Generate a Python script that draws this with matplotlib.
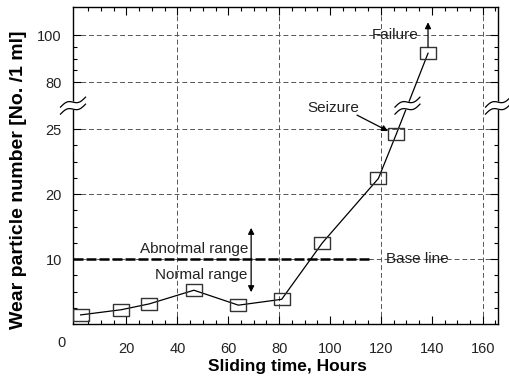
import numpy as np
import matplotlib
matplotlib.use('Agg')
import matplotlib.pyplot as plt
from matplotlib import transforms
from matplotlib.ticker import FixedLocator, FixedFormatter, NullFormatter

plt.rcParams['font.family'] = ['Liberation Sans', 'DejaVu Sans']

# ---- data ----
hours = [2, 18, 29, 46.5, 64, 81, 97, 119, 126, 138.5]
particles = [1.4, 2.2, 3.1, 5.2, 2.9, 3.8, 12.5, 21.2, 24.6, 92.3]

x_major = [20, 40, 60, 80, 100, 120, 140, 160]
x_major_labels = ['20', '40', '60', '80', '100', '120', '140', '160']
x_minor = list(range(5, 166, 5))
x_grid = [40, 80, 120, 160]

y_major = [10, 20, 25, 80, 100]
y_major_labels = ['10', '20', '25', '80', '100']
y_minor = [2.5, 5, 7.5, 12.5, 15, 17.5, 21.25, 22.5, 23.75, 85, 90, 95]
y_grid = [10, 20, 25, 80, 100]
base_value = 10

# broken (piecewise) y scale: value -> drawing position
scale_vals = [-10, 0, 10, 20, 25, 80, 100, 140]
scale_pos = [-65, 0, 65, 130, 195, 242, 289, 383]


def fwd(v):
    return np.interp(v, scale_vals, scale_pos)


def inv(p):
    return np.interp(p, scale_pos, scale_vals)


fig = plt.figure(figsize=(5.09, 3.77), dpi=100)
ax = fig.add_axes([73 / 509, 53 / 377, 425 / 509, 317 / 377])
ax.set_yscale('function', functions=(fwd, inv))
ax.set_xlim(-1, 166)
ax.set_ylim(0, 112)

grid_kw = dict(color='#555555', lw=0.7, dashes=(5, 3), zorder=1)
for gx in x_grid:
    ax.axvline(gx, **grid_kw)
for gy in y_grid:
    ax.axhline(gy, **grid_kw)

# thick base line at 10 (left part)
ax.plot([-1, 115.5], [base_value, base_value], color='black', lw=1.8,
        dashes=(4, 1.2), zorder=2)

# data
box = [(-1.36, -1), (1.36, -1), (1.36, 1), (-1.36, 1), (-1.36, -1)]
ax.plot(hours, particles, color='black', lw=0.9, zorder=3)
ax.plot(hours, particles, ls='none', marker=box, markersize=11,
        markerfacecolor='none', markeredgecolor='#333333', markeredgewidth=1.0,
        zorder=4)

# ticks
ax.xaxis.set_major_locator(FixedLocator(x_major))
ax.xaxis.set_major_formatter(FixedFormatter(x_major_labels))
ax.xaxis.set_minor_locator(FixedLocator(x_minor))
ax.yaxis.set_major_locator(FixedLocator(y_major))
ax.yaxis.set_major_formatter(FixedFormatter(y_major_labels))
ax.yaxis.set_minor_locator(FixedLocator(y_minor))
ax.yaxis.set_minor_formatter(NullFormatter())
ax.tick_params(which='both', direction='in', top=True, right=True,
               color='black', width=0.8, labelsize=10.5, labelcolor='#222222')
ax.tick_params(which='major', length=5.8)
ax.tick_params(which='minor', length=3.2)
ax.tick_params(axis='x', pad=13)
ax.tick_params(axis='y', pad=8)
for s in ax.spines.values():
    s.set_linewidth(1.0)

ax.annotate('0', xy=(0, 0), xycoords='axes fraction', xytext=(-11, -19),
            textcoords='offset pixels', ha='center', va='center',
            fontsize=10.5, color='#222222', annotation_clip=False)

ax.set_xlabel('Sliding time, Hours', fontsize=12.5, fontweight='bold')
ax.xaxis.set_label_coords(0.505, -0.11)
ax.set_ylabel('Wear particle number [No. /1 ml]', fontsize=14, fontweight='bold')
ax.yaxis.set_label_coords(-0.108, 0.454)

# annotations
txt_kw = dict(fontsize=11, color='#222222')
ax.annotate('', xy=(138.5, 105.5), xytext=(138.5, 95),
            arrowprops=dict(arrowstyle='-|>', color='black', lw=0.9,
                            mutation_scale=9, shrinkA=0, shrinkB=0), zorder=6)
ax.text(134.6, 100, 'Failure', ha='right', va='center', zorder=6, **txt_kw)

ax.annotate('', xy=(122.8, 24.85), xytext=(110.6, 41.4),
            arrowprops=dict(arrowstyle='-|>', color='black', lw=0.9,
                            mutation_scale=9, shrinkA=0, shrinkB=0), zorder=6)
ax.text(101.2, 49.6, 'Seizure', ha='center', va='center', zorder=6, **txt_kw)

ax.annotate('', xy=(69, 14.8), xytext=(69, 4.9),
            arrowprops=dict(arrowstyle='<|-|>', color='black', lw=0.9,
                            mutation_scale=9, shrinkA=0, shrinkB=0), zorder=6)
ax.text(67.8, 11.5, 'Abnormal range', ha='right', va='center', zorder=6, **txt_kw)
ax.text(67.4, 7.5, 'Normal range', ha='right', va='center', zorder=6, **txt_kw)
ax.text(122, base_value, 'Base line', ha='left', va='center', zorder=6, **txt_kw)

# break symbols
break_val = inv((fwd(25) + fwd(80)) / 2.0)
t = np.linspace(-1, 1, 60)
cx = 12.5 * t / 100.0
cy = (5.0 * t - 2.5 * np.sin(np.pi * t)) / 100.0
gap = 3.5 / 100.0


def draw_break(xd, yd):
    tr = fig.dpi_scale_trans + transforms.ScaledTranslation(xd, yd, ax.transData)
    poly_x = np.concatenate([cx, cx[::-1]])
    poly_y = np.concatenate([cy + gap, (cy - gap)[::-1]])
    ax.fill(poly_x, poly_y, color='white', transform=tr, zorder=7, clip_on=False)
    ax.plot(cx, cy + gap, color='black', lw=0.9, transform=tr, zorder=8, clip_on=False)
    ax.plot(cx, cy - gap, color='black', lw=0.9, transform=tr, zorder=8, clip_on=False)


i9, i10 = 8, 9
frac = (fwd(break_val) - fwd(particles[i9])) / (fwd(particles[i10]) - fwd(particles[i9]))
x_cross = hours[i9] + frac * (hours[i10] - hours[i9])

draw_break(ax.get_xlim()[0], break_val)
draw_break(ax.get_xlim()[1], break_val)
draw_break(x_cross, break_val)

fig.savefig('out.png', dpi=100)
